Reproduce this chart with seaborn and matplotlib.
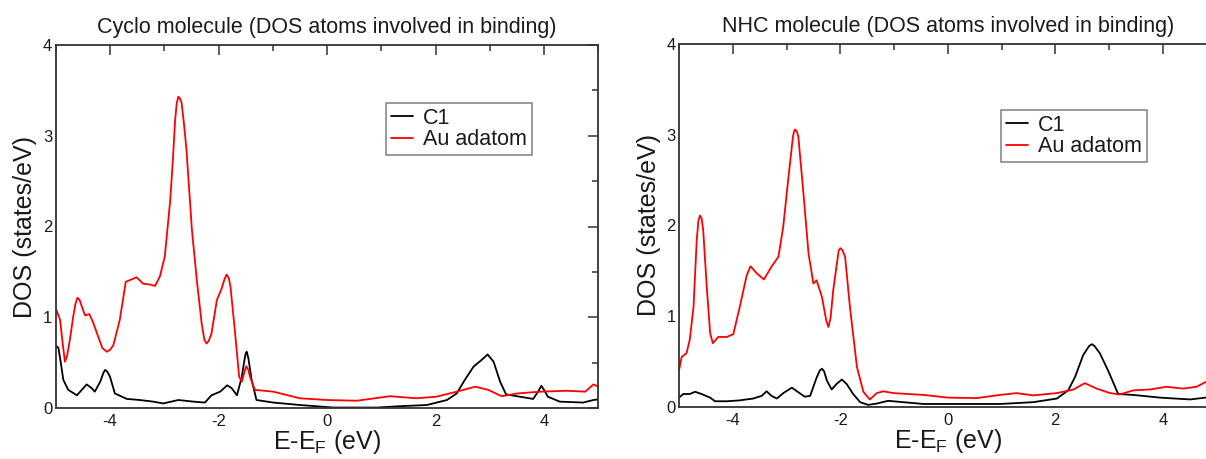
import matplotlib
matplotlib.use("Agg")
import matplotlib.pyplot as plt
from matplotlib.ticker import MultipleLocator, FixedLocator
import numpy as np
import pandas as pd
import seaborn as sns

# ---- projected DOS data (energy E-E_F in eV, DOS in states/eV) ----
cyclo_c1_energy = [-5.00, -4.95, -4.91, -4.86, -4.77, -4.61, -4.52, -4.43, -4.34, -4.28,
                   -4.18, -4.12, -4.09, -4.05, -4.00, -3.91, -3.69, -3.45, -3.20, -3.02,
                   -2.74, -2.46, -2.25, -2.13, -1.97, -1.84, -1.76, -1.66, -1.57, -1.53,
                   -1.50, -1.48, -1.45, -1.42, -1.39, -1.30, -0.99, -0.50, 0.12, 0.92,
                   1.35, 1.84, 2.21, 2.39, 2.54, 2.70, 2.85, 2.96, 3.07, 3.19,
                   3.30, 3.50, 3.80, 3.90, 3.95, 4.00, 4.07, 4.29, 4.72, 4.91, 5.00]
cyclo_c1_dos = [0.69, 0.66, 0.51, 0.31, 0.20, 0.14, 0.20, 0.26, 0.22, 0.18,
                0.29, 0.39, 0.42, 0.40, 0.345, 0.16, 0.10, 0.088, 0.07, 0.05,
                0.088, 0.07, 0.06, 0.14, 0.18, 0.25, 0.22, 0.14, 0.345, 0.50,
                0.60, 0.62, 0.55, 0.43, 0.31, 0.088, 0.06, 0.033, 0.005, 0.005,
                0.02, 0.033, 0.088, 0.16, 0.31, 0.455, 0.53, 0.59, 0.51, 0.29,
                0.15, 0.13, 0.10, 0.19, 0.245, 0.20, 0.125, 0.07, 0.06, 0.088, 0.095]

cyclo_au_energy = [-5.00, -4.92, -4.87, -4.83, -4.79, -4.74, -4.68, -4.64, -4.60, -4.56,
                   -4.52, -4.46, -4.38, -4.31, -4.22, -4.14, -4.06, -4.00, -3.94, -3.82,
                   -3.71, -3.63, -3.51, -3.39, -3.26, -3.17, -3.08, -2.99, -2.89, -2.84,
                   -2.80, -2.77, -2.74, -2.71, -2.68, -2.64, -2.59, -2.54, -2.49, -2.40,
                   -2.31, -2.26, -2.22, -2.18, -2.13, -2.03, -1.94, -1.89, -1.85, -1.81,
                   -1.78, -1.70, -1.62, -1.57, -1.53, -1.49, -1.45, -1.42, -1.33, -0.99,
                   -0.50, 0.00, 0.55, 1.16, 1.65, 2.02, 2.39, 2.73, 2.97, 3.22,
                   3.50, 3.93, 4.42, 4.76, 4.91, 5.00]
cyclo_au_dos = [1.10, 0.97, 0.70, 0.51, 0.58, 0.75, 1.00, 1.14, 1.215, 1.19,
                1.12, 1.02, 1.035, 0.94, 0.79, 0.66, 0.62, 0.64, 0.69, 0.97,
                1.39, 1.41, 1.44, 1.37, 1.36, 1.345, 1.45, 1.67, 2.29, 2.75,
                3.17, 3.36, 3.43, 3.41, 3.36, 3.15, 2.84, 2.40, 1.96, 1.41,
                0.93, 0.75, 0.71, 0.74, 0.82, 1.19, 1.32, 1.42, 1.47, 1.43,
                1.34, 0.86, 0.345, 0.29, 0.38, 0.46, 0.42, 0.345, 0.20, 0.18,
                0.107, 0.088, 0.08, 0.13, 0.107, 0.125, 0.18, 0.235, 0.20, 0.13,
                0.16, 0.18, 0.19, 0.18, 0.26, 0.235]

nhc_c1_energy = [-5.00, -4.92, -4.80, -4.70, -4.58, -4.42, -4.33, -4.11, -3.87, -3.62,
                 -3.46, -3.37, -3.28, -3.18, -3.06, -2.90, -2.78, -2.66, -2.56, -2.44,
                 -2.38, -2.34, -2.30, -2.25, -2.16, -2.07, -1.97, -1.88, -1.76, -1.63,
                 -1.48, -1.32, -1.11, -0.83, -0.45, 0.01, 0.97, 1.59, 2.03, 2.24,
                 2.37, 2.52, 2.63, 2.68, 2.73, 2.83, 2.99, 3.17, 3.45, 3.95,
                 4.51, 4.79, 5.00]
nhc_c1_dos = [0.10, 0.14, 0.14, 0.165, 0.14, 0.10, 0.06, 0.06, 0.07, 0.09,
              0.12, 0.17, 0.12, 0.09, 0.15, 0.21, 0.16, 0.11, 0.12, 0.32,
              0.40, 0.42, 0.39, 0.29, 0.19, 0.25, 0.30, 0.25, 0.14, 0.05,
              0.02, 0.035, 0.065, 0.05, 0.03, 0.03, 0.03, 0.05, 0.09, 0.18,
              0.33, 0.57, 0.67, 0.69, 0.67, 0.59, 0.39, 0.14, 0.13, 0.10,
              0.08, 0.10, 0.11]

nhc_au_energy = [-5.00, -4.95, -4.86, -4.80, -4.73, -4.67, -4.64, -4.61, -4.58, -4.55,
                 -4.48, -4.42, -4.37, -4.27, -4.11, -3.99, -3.87, -3.74, -3.67, -3.55,
                 -3.42, -3.28, -3.15, -3.06, -2.97, -2.88, -2.86, -2.84, -2.81, -2.78,
                 -2.69, -2.59, -2.50, -2.44, -2.34, -2.26, -2.22, -2.18, -2.13, -2.03,
                 -2.00, -1.96, -1.91, -1.82, -1.69, -1.57, -1.45, -1.32, -1.20, -1.01,
                 -0.45, 0.01, 0.54, 0.97, 1.28, 1.59, 2.03, 2.34, 2.55, 2.77,
                 3.02, 3.20, 3.45, 3.76, 4.07, 4.38, 4.63, 4.79, 5.00]
nhc_au_dos = [0.40, 0.55, 0.59, 0.74, 1.10, 1.84, 2.05, 2.11, 2.08, 1.95,
              1.29, 0.81, 0.70, 0.77, 0.77, 0.80, 1.10, 1.45, 1.55, 1.47,
              1.405, 1.545, 1.655, 1.99, 2.50, 2.98, 3.04, 3.06, 3.04, 2.98,
              2.39, 1.69, 1.36, 1.395, 1.21, 0.95, 0.88, 0.98, 1.29, 1.72,
              1.75, 1.73, 1.655, 1.10, 0.44, 0.165, 0.08, 0.15, 0.17, 0.15,
              0.13, 0.10, 0.095, 0.13, 0.15, 0.125, 0.15, 0.19, 0.26, 0.20,
              0.15, 0.135, 0.18, 0.19, 0.22, 0.20, 0.22, 0.27, 0.30]

series_names = ["C1", "Au adatom"]
series_colors = ["black", "red"]
panel_titles = ["Cyclo molecule (DOS atoms involved in binding)",
                "NHC molecule (DOS atoms involved in binding)"]
x_tick_values = [-4, -2, 0, 2, 4]
y_tick_values = [0, 1, 2, 3, 4]
x_label = "E-E$_\\mathrm{F}$ (eV)"
y_label = "DOS (states/eV)"


def long_form(c1_e, c1_d, au_e, au_d):
    parts = []
    for name, e, d in zip(series_names, (c1_e, au_e), (c1_d, au_d)):
        parts.append(pd.DataFrame({"energy": e, "dos": d, "series": name}))
    return pd.concat(parts, ignore_index=True)


panels = [
    long_form(cyclo_c1_energy, cyclo_c1_dos, cyclo_au_energy, cyclo_au_dos),
    long_form(nhc_c1_energy, nhc_c1_dos, nhc_au_energy, nhc_au_dos),
]

sns.set_theme(style="white")
plt.rcParams["font.family"] = ["Liberation Sans", "DejaVu Sans"]
plt.rcParams["mathtext.fontset"] = "custom"
plt.rcParams["mathtext.rm"] = "Liberation Sans"
plt.rcParams["mathtext.it"] = "Liberation Sans:italic"
plt.rcParams["mathtext.default"] = "regular"
plt.rcParams["axes.unicode_minus"] = False

W, H = 1206, 459
fig = plt.figure(figsize=(W / 100, H / 100), dpi=100)

# axes rectangles in pixels: left, top, right, bottom
axes_px = [(55.75, 45.0, 598.3, 408.0), (679.0, 44.3, 1216.5, 406.7)]
legend_px = [(386, 103), (1001, 110)]
palette = dict(zip(series_names, series_colors))
text_color = "#1a1a1a"

for df, title, (l, t, r, b), (lx, ly) in zip(panels, panel_titles, axes_px, legend_px):
    ax = fig.add_axes([l / W, 1 - b / H, (r - l) / W, (b - t) / H])
    sns.lineplot(data=df, x="energy", y="dos", hue="series", palette=palette,
                 estimator=None, sort=False, linewidth=1.3, ax=ax)
    ax.set_xlim(-5, 5)
    ax.set_ylim(0, 4)
    ax.xaxis.set_major_locator(FixedLocator(x_tick_values))
    ax.xaxis.set_minor_locator(MultipleLocator(1))
    ax.yaxis.set_major_locator(FixedLocator(y_tick_values))
    ax.yaxis.set_minor_locator(MultipleLocator(0.5))
    ax.tick_params(which="both", direction="in", top=True, right=True,
                   color="#333333", width=1.1, labelsize=12, labelcolor=text_color)
    ax.tick_params(axis="x", which="major", length=7.5, pad=4.5)
    ax.tick_params(axis="y", which="major", length=7.5, pad=2.5)
    ax.tick_params(which="minor", length=4.2)
    for sp in ax.spines.values():
        sp.set_color("#333333")
        sp.set_linewidth(1.3)
    ax.set_title(title, fontsize=15.5, color=text_color, pad=9)
    ax.set_xlabel(x_label, fontsize=18, color=text_color)
    ax.set_ylabel(y_label, fontsize=18, color=text_color)
    ax.xaxis.set_label_coords(0.5, -0.055)
    ax.yaxis.set_label_coords(-0.034, 0.5)
    handles, labels = ax.get_legend_handles_labels()
    leg = ax.legend(handles, labels, loc="upper left",
                    bbox_to_anchor=(lx / W, 1 - ly / H), bbox_transform=fig.transFigure,
                    borderaxespad=0, fontsize=15.5, frameon=True, fancybox=False,
                    framealpha=1, edgecolor="#7f7f7f", handlelength=1.05,
                    handletextpad=0.45, labelspacing=0.02, borderpad=0.22)
    leg.get_frame().set_linewidth(1.1)
    for txt in leg.get_texts():
        txt.set_color(text_color)

fig.savefig("out.png", dpi=100)
